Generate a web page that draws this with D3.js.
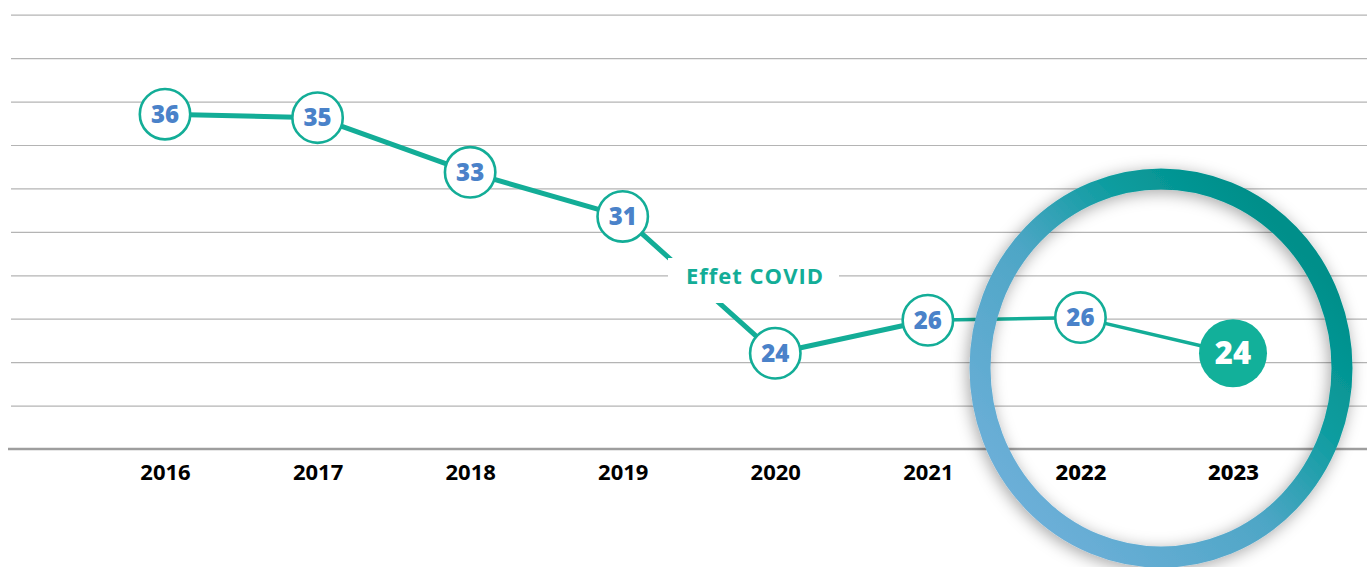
<!DOCTYPE html>
<html>
<head>
<meta charset="utf-8">
<script src="https://cdn.jsdelivr.net/npm/d3@7"></script>
<style>
  html, body { margin: 0; padding: 0; background: #fff; }
  svg { display: block; }
</style>
</head>
<body>
<svg id="chart" width="1367" height="567"></svg>
<script>
// ---- data ----
const years = ["2016", "2017", "2018", "2019", "2020", "2021", "2022", "2023"];
const values = [35.42, 35.26, 32.74, 30.71, 24.41, 25.93, 26.05, 24.41];
const labels = ["36", "35", "33", "31", "24", "26", "26", "24"];
const yTicks = [20, 22, 24, 26, 28, 30, 32, 34, 36, 38, 40];
const annotationText = "Effet COVID";
const highlightYears = ["2022", "2023"];

// ---- layout ----
const W = 1367, H = 567;
const svg = d3.select("#chart");
const teal = "#13ad97";
const blue = "#4a82c9";

const x = d3.scalePoint().domain(years).range([165, 1233]);
const y = d3.scaleLinear().domain([20, 40]).range([449, 14.7]);

const defs = svg.append("defs");
const grad = defs.append("linearGradient").attr("id", "ringGrad")
  .attr("x1", "0.1").attr("y1", "0.85").attr("x2", "0.85").attr("y2", "0.15");
grad.append("stop").attr("offset", "0").attr("stop-color", "#6cafd8");
grad.append("stop").attr("offset", "0.45").attr("stop-color", "#4ea6c6");
grad.append("stop").attr("offset", "0.75").attr("stop-color", "#0b9c9e");
grad.append("stop").attr("offset", "1").attr("stop-color", "#008f8a");
const filt = defs.append("filter").attr("id", "ringShadow")
  .attr("x", "-20%").attr("y", "-20%").attr("width", "140%").attr("height", "140%");
filt.append("feDropShadow").attr("dx", -2).attr("dy", 3)
  .attr("stdDeviation", 8).attr("flood-color", "#000").attr("flood-opacity", 0.35);

// gridlines
const grid = svg.append("g").attr("transform", "translate(11,0)")
  .call(d3.axisLeft(y).tickValues(yTicks.filter(v => v !== 20)).tickSize(-(W - 11)).tickFormat(""));
grid.select(".domain").remove();
grid.selectAll(".tick line").attr("stroke", "#b4b4b4").attr("stroke-width", 1.2);

// baseline x axis
const xAxis = svg.append("g").attr("transform", `translate(0,${y(20)})`)
  .call(d3.axisBottom(x).tickSize(0).tickPadding(15));
xAxis.select(".domain").attr("d", `M8,0H${W}`).attr("stroke", "#9e9e9e").attr("stroke-width", 2.5);
xAxis.selectAll(".tick text")
  .attr("font-family", "'Noto Sans', sans-serif")
  .attr("font-size", 22)
  .attr("font-weight", d => highlightYears.includes(d) ? 800 : 700)
  .attr("fill", "#000");

// line
const pts = years.map((yr, i) => ({ yr, v: values[i], label: labels[i], i }));
const line = d3.line().x(d => x(d.yr)).y(d => y(d.v));
svg.append("path").datum(pts.slice(0, 6))
  .attr("d", line).attr("fill", "none").attr("stroke", teal).attr("stroke-width", 5)
  .attr("stroke-linejoin", "round");
svg.append("path").datum(pts.slice(5))
  .attr("d", line).attr("fill", "none").attr("stroke", teal).attr("stroke-width", 3.5)
  .attr("stroke-linejoin", "round");

// annotation
const ax = 755, ay = 276;
svg.append("rect").attr("x", 668).attr("y", 258).attr("width", 171).attr("height", 45).attr("fill", "#fff");
svg.append("text").attr("x", ax).attr("y", ay).attr("dy", "0.35em")
  .attr("text-anchor", "middle")
  .attr("font-family", "'Open Sans', sans-serif").attr("font-weight", 700)
  .attr("font-size", 22).attr("letter-spacing", 1)
  .attr("fill", teal).text(annotationText);

// markers
const last = pts.length - 1;
const mk = svg.append("g").selectAll("g").data(pts).join("g")
  .attr("transform", d => `translate(${x(d.yr)},${y(d.v)})`);
mk.append("circle")
  .attr("r", d => d.i === last ? 34 : 25.2)
  .attr("fill", d => d.i === last ? "#12b09a" : "#fff")
  .attr("stroke", d => d.i === last ? "none" : teal)
  .attr("stroke-width", 2.6);
mk.append("text").attr("text-anchor", "middle").attr("dy", "0.36em")
  .attr("font-family", "'Open Sans', sans-serif").attr("font-weight", 800)
  .attr("font-size", d => d.i === last ? 31 : 24)
  .attr("fill", d => d.i === last ? "#fff" : blue)
  .text(d => d.label);

// highlight ring
svg.append("ellipse")
  .attr("cx", 1161).attr("cy", 368).attr("rx", 181).attr("ry", 189)
  .attr("fill", "none").attr("stroke", "url(#ringGrad)").attr("stroke-width", 21)
  .attr("filter", "url(#ringShadow)");
</script>
</body>
</html>
